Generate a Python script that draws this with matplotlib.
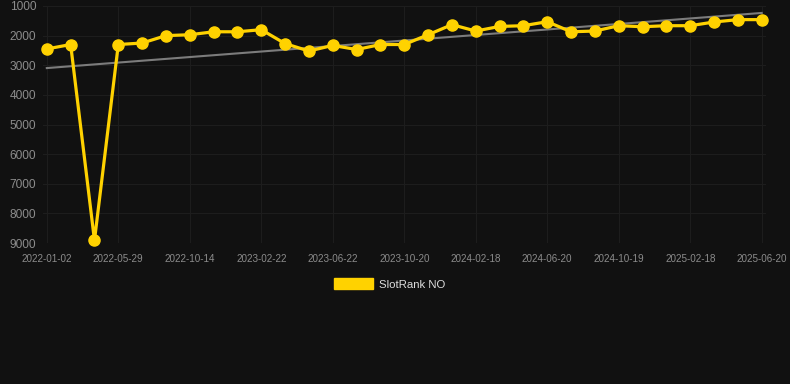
import matplotlib
matplotlib.use("Agg")
import matplotlib.pyplot as plt
from matplotlib.patches import Patch
import numpy as np

# SlotRank NO position over time (lower number = better rank)
ranks = [2450, 2300, 8910, 2300, 2250, 2000, 1970, 1870, 1870, 1800,
         2270, 2520, 2330, 2470, 2300, 2300, 1970, 1630, 1845, 1690,
         1665, 1530, 1870, 1845, 1665, 1700, 1665, 1665, 1540, 1460, 1460]
tick_labels = ['2022-01-02', '2022-05-29', '2022-10-14', '2023-02-22',
               '2023-06-22', '2023-10-20', '2024-02-18', '2024-06-20',
               '2024-10-19', '2025-02-18', '2025-06-20']
y_ticks = [1000, 2000, 3000, 4000, 5000, 6000, 7000, 8000, 9000]
series_name = 'SlotRank NO'

bg = '#111111'
gold = '#FFD200'

plt.rcParams['font.family'] = ['Liberation Sans', 'DejaVu Sans']

W, H = 790, 384
fig = plt.figure(figsize=(W / 100, H / 100), dpi=100, facecolor=bg)
ax = fig.add_axes([43 / W, 1 - 243 / H, (766 - 43) / W, (243 - 6) / H])
ax.set_facecolor(bg)

x = np.arange(len(ranks))

# trend line (linear fit)
coef = np.polyfit(x, ranks, 1)
ax.plot(x, np.polyval(coef, x), color='#7c7c7c', linewidth=1.5, zorder=2)

ax.plot(x, ranks, color=gold, linewidth=2.3, marker='o', markersize=8,
        markerfacecolor=gold, markeredgecolor=gold, zorder=3, clip_on=False)

ax.set_xlim(-0.16, len(ranks) - 1 + 0.18)
ax.set_ylim(9000, 1000)

ax.set_xticks(x[::3])
ax.set_xticklabels(tick_labels)
ax.set_yticks(y_ticks)
ax.set_yticklabels([str(v) for v in y_ticks])

ax.tick_params(axis='x', length=0, pad=8, labelsize=7.1, colors='#8c8c8c')
ax.tick_params(axis='y', length=0, pad=5, labelsize=8.6, colors='#8c8c8c')

ax.grid(True, color='#1d1d1d', linewidth=0.8)
ax.set_axisbelow(True)
for s in ax.spines.values():
    s.set_visible(False)

handle = Patch(facecolor=gold, edgecolor=gold)
fig.legend([handle], [series_name], loc='center',
           bbox_to_anchor=(389.5 / W, 1 - 284 / H), frameon=False,
           handlelength=3.5, handleheight=1.05, handletextpad=0.5,
           fontsize=8.2, labelcolor='#dddddd')

fig.savefig('out.png', dpi=100, facecolor=bg)
